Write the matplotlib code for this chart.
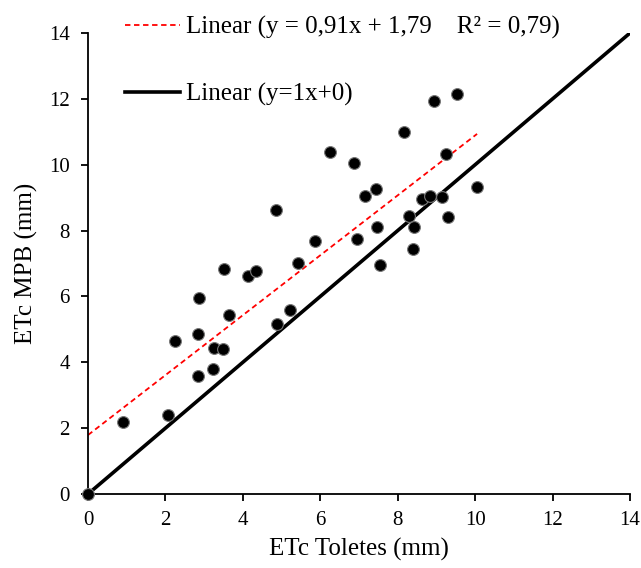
import matplotlib
matplotlib.use("Agg")
import matplotlib.pyplot as plt
from matplotlib.lines import Line2D

plt.rcParams['font.family'] = ['Liberation Serif', 'DejaVu Serif']

etc_toletes = [0, 0.90, 2.07, 2.25, 2.85, 2.85, 2.87, 3.22, 3.25, 3.49, 3.51, 3.64,
               4.13, 4.34, 4.86, 4.88, 5.22, 5.42, 5.86, 6.25, 6.87, 6.95, 7.16,
               7.44, 7.46, 7.54, 8.17, 8.29, 8.42, 8.40, 8.63, 8.84, 9.15, 8.94,
               9.54, 9.25, 9.30, 10.05]
etc_mpb = [0, 2.19, 2.40, 4.65, 4.86, 3.58, 5.95, 3.80, 4.43, 4.40, 6.83, 5.44,
           6.62, 6.77, 8.62, 5.16, 5.59, 7.01, 7.68, 10.39, 10.05, 7.74, 9.05,
           9.26, 8.11, 6.95, 10.99, 8.44, 8.11, 7.44, 8.96, 9.05, 9.02, 11.93,
           12.15, 10.33, 8.41, 9.33]

slope, intercept = 0.91, 1.79
fit_x = [0, 10.05]
ident_x = [0, 14]
ticks = [0, 2, 4, 6, 8, 10, 12, 14]

fig = plt.figure(figsize=(6.41, 5.68), dpi=100)
ax = fig.add_axes([88/641, 1-494/568, (630-88)/641, (494-33)/568])

ax.plot(ident_x, ident_x, color='black', lw=2.6, zorder=2)
ax.plot(fit_x, [slope*v + intercept for v in fit_x], color='#ff0000',
        lw=1.3, ls=(0, (3, 2)), zorder=2)
ax.plot(etc_toletes, etc_mpb, ls='none', marker='o', ms=8.5,
        markerfacecolor='black', markeredgecolor='#777777', markeredgewidth=0.8,
        zorder=3, clip_on=False)

ax.set_xlim(0, 14)
ax.set_ylim(0, 14)
ax.set_xticks(ticks)
ax.set_yticks(ticks)
for s in ['top', 'right']:
    ax.spines[s].set_visible(False)
for s in ['left', 'bottom']:
    ax.spines[s].set_linewidth(1.3)
ax.tick_params(direction='out', length=5, width=1.3, labelsize=15)
ax.tick_params(axis='y', pad=8)
ax.tick_params(axis='x', pad=7)
ax.set_xlabel('ETc Toletes (mm)', fontsize=18, labelpad=6)
ax.set_ylabel('ETc MPB (mm)', fontsize=18, labelpad=8)

handles = [Line2D([], [], color='#ff0000', lw=1.3, ls=(0, (3, 2))),
           Line2D([], [], color='black', lw=2.6)]
labels = ['Linear (y = 0,91x + 1,79    R\u00b2 = 0,79)', 'Linear (y=1x+0)']
fig.legend(handles, labels, loc='upper left', bbox_to_anchor=(125/641, 1-16/568),
           frameon=False, fontsize=18, handlelength=2.2, handletextpad=0.25,
           labelspacing=1.75, borderaxespad=0, borderpad=0)

fig.savefig('out.png', dpi=100)
